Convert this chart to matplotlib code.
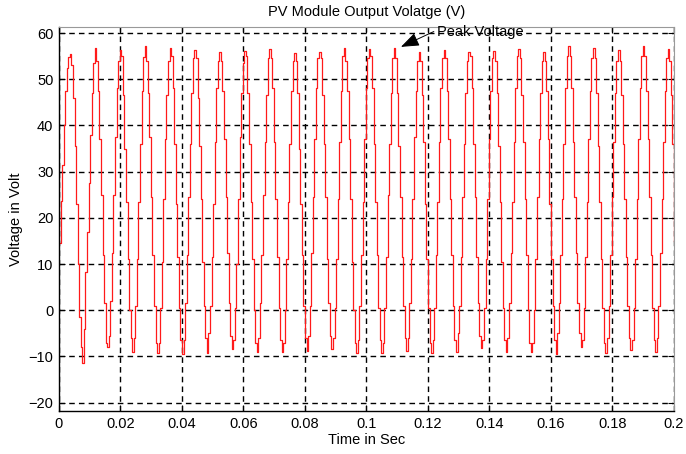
import numpy as np
import matplotlib.pyplot as plt

# sampled module voltage, one row per cycle (16 samples each, last row partial)
cycles = [
    [14.5, 23.6, 31.5, 40.0, 47.5, 52.5, 54.8, 55.5, 53.0, 46.0, 35.5, 23.0, 10.0, -1.5, -8.0, -11.5],
    [-4.0, 8.3, 17.0, 27.5, 38.0, 47.0, 53.5, 56.8, 54.0, 47.5, 37.0, 25.0, 12.0, 1.5, -7.0, -7.9],
    [-5.5, 2.0, 12.5, 25.0, 37.5, 48.0, 54.0, 56.4, 55.0, 46.5, 35.0, 23.5, 11.0, 0.0, -6.0, -9.0],
    [-6.0, 1.0, 11.0, 23.5, 36.0, 47.5, 54.8, 57.1, 54.0, 47.0, 37.5, 24.5, 12.0, 1.0, -7.0, -9.2],
    [-7.0, 0.5, 10.5, 24.0, 37.0, 46.5, 54.0, 56.8, 55.0, 48.0, 36.0, 23.0, 11.5, 0.5, -6.5, -9.5],
    [-6.5, 1.5, 12.0, 24.5, 36.0, 47.0, 54.5, 56.4, 54.5, 46.0, 35.5, 24.0, 10.5, 1.0, -6.0, -9.3],
    [-5.0, 1.0, 11.5, 23.0, 36.5, 48.0, 54.0, 56.0, 54.0, 47.5, 37.0, 24.5, 12.5, 1.5, -5.5, -8.3],
    [-6.5, 0.5, 10.0, 24.0, 37.5, 47.0, 53.5, 56.2, 55.0, 47.0, 36.0, 23.5, 11.0, 0.0, -7.0, -9.0],
    [-6.0, 1.5, 12.0, 25.0, 36.5, 46.5, 54.5, 56.5, 54.5, 48.0, 36.5, 24.0, 11.5, 0.5, -6.5, -9.1],
    [-7.0, 0.0, 11.0, 23.5, 36.0, 47.5, 54.0, 55.6, 54.0, 47.0, 35.0, 23.0, 12.0, 1.0, -6.0, -8.9],
    [-5.5, 1.0, 12.5, 24.5, 37.0, 48.0, 54.5, 56.0, 54.5, 46.5, 36.0, 24.5, 11.0, 1.5, -5.5, -8.3],
    [-6.0, 0.5, 11.0, 24.0, 36.5, 47.5, 55.0, 56.8, 54.0, 47.5, 37.0, 24.0, 10.5, 0.0, -7.0, -9.2],
    [-6.5, 1.0, 12.0, 23.5, 37.0, 48.0, 54.5, 56.6, 55.0, 48.0, 36.0, 23.5, 12.0, 0.5, -6.5, -9.2],
    [-7.0, 0.5, 11.5, 25.0, 36.0, 47.0, 54.5, 56.8, 54.5, 47.0, 35.5, 24.5, 11.5, 1.0, -6.0, -8.9],
    [-6.0, 1.5, 11.0, 24.0, 37.5, 47.5, 54.0, 56.0, 54.0, 46.5, 36.5, 23.0, 11.0, 0.5, -7.0, -9.2],
    [-6.5, 0.5, 12.0, 23.5, 36.5, 48.0, 54.5, 56.3, 54.5, 47.5, 37.0, 24.0, 12.0, 1.0, -6.5, -9.0],
    [-5.0, 1.0, 11.5, 24.5, 36.0, 47.0, 54.0, 56.0, 55.0, 48.0, 36.0, 24.5, 11.5, 1.5, -5.5, -8.1],
    [-6.5, 0.5, 11.0, 24.0, 37.0, 47.5, 54.5, 56.1, 54.0, 47.0, 35.5, 23.5, 10.5, 0.5, -6.5, -9.0],
    [-6.0, 1.5, 12.5, 23.5, 36.5, 48.0, 55.0, 56.5, 54.5, 46.5, 36.5, 24.0, 12.0, 0.0, -7.0, -9.1],
    [-7.0, 0.0, 11.0, 24.5, 37.0, 47.0, 54.0, 56.0, 54.0, 47.5, 37.0, 23.0, 11.0, 1.0, -6.5, -9.5],
    [-5.0, 1.5, 12.0, 24.0, 36.0, 48.0, 55.0, 57.1, 55.0, 48.0, 36.5, 24.5, 12.5, 1.5, -5.0, -7.9],
    [-6.5, 0.5, 11.5, 23.5, 37.0, 47.5, 54.5, 56.8, 54.5, 47.0, 35.5, 23.5, 11.0, 0.5, -7.0, -9.2],
    [-6.0, 1.0, 12.0, 24.5, 36.5, 47.0, 54.0, 56.4, 54.0, 46.5, 36.0, 24.0, 11.5, 1.0, -6.0, -8.5],
    [-6.5, 0.5, 11.0, 24.0, 37.0, 48.0, 55.0, 57.1, 55.0, 47.5, 37.0, 24.5, 12.0, 0.5, -6.5, -9.0],
    [-6.0, 1.0, 12.5, 24.0, 36.5, 47.5, 54.5, 56.6, 54.0, 46.5, 36.0, 15.0],
]
volts = np.concatenate([np.array(c) for c in cycles])
t = np.linspace(0, 0.2, len(volts))

xticks = [0, 0.02, 0.04, 0.06, 0.08, 0.1, 0.12, 0.14, 0.16, 0.18, 0.2]
xticklabels = ['0', '0.02', '0.04', '0.06', '0.08', '0.1', '0.12', '0.14', '0.16', '0.18', '0.2']
yticks = [-20, -10, 0, 10, 20, 30, 40, 50, 60]

plt.rcParams['font.family'] = ['Liberation Sans', 'DejaVu Sans']
plt.rcParams['font.size'] = 10.5

fig = plt.figure(figsize=(6.86, 4.54), dpi=100)
ax = fig.add_axes([0.086, 0.0947, 0.8965, 0.8458])

ax.step(t, volts, where='post', color='#ff1a1a', lw=0.9)

ax.set_xlim(0, 0.2)
ax.set_ylim(-21.8, 61.3)
ax.set_xticks(xticks)
ax.set_xticklabels(xticklabels)
ax.set_yticks(yticks)
ax.tick_params(direction='in', length=4, top=True, right=True, labelsize=10.5, pad=4)
ax.grid(True, color='black', linestyle=(0, (4, 3)), lw=1.0)

for s in ['left', 'bottom']:
    ax.spines[s].set_color('black')
    ax.spines[s].set_linewidth(1.0)
for s in ['top', 'right']:
    ax.spines[s].set_color('#999999')
    ax.spines[s].set_linewidth(0.8)

ax.set_title('PV Module Output Volatge (V)', fontsize=10.5, pad=8)
ax.set_xlabel('Time in Sec', fontsize=10.5, labelpad=2)
ax.set_ylabel('Voltage in Volt', fontsize=10.5, labelpad=4)

ax.annotate('Peak Voltage', xy=(0.1112, 57.0), xytext=(0.1228, 60.3),
            fontsize=10.5, va='center', ha='left',
            arrowprops=dict(arrowstyle='-|>,head_length=0.8,head_width=0.3',
                            color='black', lw=0.7, mutation_scale=14,
                            relpos=(0.0, 0.6), shrinkA=0, shrinkB=0))

plt.savefig('out.png', dpi=100)
